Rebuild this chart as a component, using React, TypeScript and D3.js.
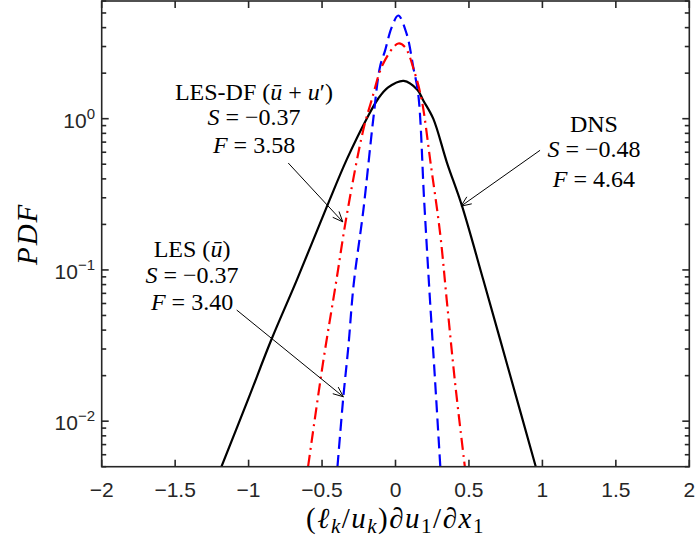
import React from "react";
import * as d3 from "d3";

// values
const dnsX = [-1.185, -1.0, -0.846, -0.672, -0.468, -0.33, -0.196, -0.117, -0.05, 0.056, 0.15, 0.189, 0.257, 0.35, 0.451, 0.598, 0.78, 0.955];
const dnsY = [0.005, 0.0142, 0.0344, 0.0857, 0.261, 0.542, 1.0, 1.36, 1.61, 1.78, 1.55, 1.32, 1.0, 0.513, 0.268, 0.0857, 0.0202, 0.005];

const lesdfX = [-0.595, -0.494, -0.402, -0.334, -0.22, -0.163, -0.084, 0.019, 0.065, 0.133, 0.179, 0.24, 0.304, 0.349, 0.406, 0.472];
const lesdfY = [0.005, 0.0241, 0.0857, 0.224, 0.837, 1.32, 2.31, 3.14, 2.97, 1.98, 1.32, 0.5, 0.174, 0.063, 0.0178, 0.005];

const lesX = [-0.395, -0.355, -0.321, -0.285, -0.219, -0.151, -0.106, -0.071, -0.026, 0.019, 0.076, 0.121, 0.155, 0.195, 0.232, 0.269, 0.305];
const lesY = [0.005, 0.0145, 0.031, 0.08, 0.248, 1.0, 2.19, 2.82, 4.02, 4.81, 3.64, 2.19, 1.45, 0.288, 0.07, 0.0188, 0.005];

const xTicks = [-2, -1.5, -1, -0.5, 0, 0.5, 1, 1.5, 2];
const xTickLabels = ["\u22122", "\u22121.5", "\u22121", "\u22120.5", "0", "0.5", "1", "1.5", "2"];
const yTicks = [0.01, 0.1, 1];
const yTickExps = ["\u22122", "\u22121", "0"];

// annotation anchors in data units: [text x, line1 y, line2 y, line3 y]
const annLesdf = [-0.963, 1.32, 0.903, 0.59];
const annLes = [-1.385, 0.122, 0.0818, 0.0543];
const annDns = [1.351, 0.816, 0.558, 0.354];
// arrows: [x tail, y tail, x head, y head]
const arrowLesdf = [-0.73, 0.509, -0.359, 0.208];
const arrowLes = [-1.081, 0.0543, -0.355, 0.0145];
const arrowDns = [0.984, 0.618, 0.446, 0.264];

const W = 697;
const H = 541;
const left = 101.7, right = 689.3, top = 1, bottom = 466.7;

const tickFont = "'Liberation Sans', Arial, Helvetica, sans-serif";
const texFont = "'Liberation Serif', 'Times New Roman', serif";
const axisColor = "#262626";

function Arrow({ a, xs, ys }: { a: number[]; xs: any; ys: any }) {
  const x1 = xs(a[0]), y1 = ys(a[1]), x2 = xs(a[2]), y2 = ys(a[3]);
  const ang = Math.atan2(y2 - y1, x2 - x1);
  const L = 11, hw = 0.4;
  const p1 = [x2 - L * Math.cos(ang - hw), y2 - L * Math.sin(ang - hw)];
  const p2 = [x2 - L * Math.cos(ang + hw), y2 - L * Math.sin(ang + hw)];
  return (
    <g stroke="#000" strokeWidth={1} fill="none">
      <line x1={x1} y1={y1} x2={x2} y2={y2} />
      <polyline points={`${p1[0]},${p1[1]} ${x2},${y2} ${p2[0]},${p2[1]}`} />
    </g>
  );
}

export default function App() {
  const xs = d3.scaleLinear().domain([-2, 2]).range([left, right]);
  const ys = d3.scaleLog().domain([0.005, 6]).range([bottom, top]);

  const line = d3
    .line<[number, number]>()
    .x((d) => xs(d[0]))
    .y((d) => ys(d[1]))
    .curve(d3.curveCatmullRom.alpha(0.5));

  const series = [
    { name: "DNS", x: dnsX, y: dnsY, color: "#000000", dash: undefined },
    { name: "LES", x: lesX, y: lesY, color: "#0000ff", dash: "12,6" },
    { name: "LES-DF", x: lesdfX, y: lesdfY, color: "#ff0000", dash: "12,5,2,5" },
  ];

  const minor = ys.ticks().filter((v) => !yTicks.some((t) => Math.abs(t - v) < 1e-9));

  return (
    <svg width={W} height={H} style={{ position: "absolute", left: 0, top: 0, background: "#fff" }}>
      <defs>
        <clipPath id="plotclip">
          <rect x={left} y={top} width={right - left} height={bottom - top} />
        </clipPath>
      </defs>
      <rect x={0} y={0} width={W} height={H} fill="#fff" />

      <g clipPath="url(#plotclip)">
        {series.map((s) => (
          <path
            key={s.name}
            d={line(s.x.map((v, i) => [v, s.y[i]] as [number, number])) || ""}
            fill="none"
            stroke={s.color}
            strokeWidth={2.2}
            strokeDasharray={s.dash}
          />
        ))}
      </g>

      {/* frame and ticks */}
      <g stroke={axisColor} strokeWidth={1.6} fill="none">
        <rect x={left} y={top} width={right - left} height={bottom - top} />
        {xTicks.map((t) => (
          <g key={"xt" + t}>
            <line x1={xs(t)} x2={xs(t)} y1={bottom} y2={bottom - 7} />
            <line x1={xs(t)} x2={xs(t)} y1={top} y2={top + 7} />
          </g>
        ))}
        {yTicks.map((t) => (
          <g key={"yt" + t}>
            <line x1={left} x2={left + 7} y1={ys(t)} y2={ys(t)} />
            <line x1={right} x2={right - 7} y1={ys(t)} y2={ys(t)} />
          </g>
        ))}
        {minor.map((t) => (
          <g key={"ym" + t}>
            <line x1={left} x2={left + 4.5} y1={ys(t)} y2={ys(t)} />
            <line x1={right} x2={right - 4.5} y1={ys(t)} y2={ys(t)} />
          </g>
        ))}
      </g>

      {/* tick labels */}
      <g fill={axisColor} fontFamily={tickFont} fontSize={21}>
        {xTicks.map((t, i) => (
          <text key={"xl" + t} x={xs(t)} y={497} textAnchor="middle">
            {xTickLabels[i]}
          </text>
        ))}
        {yTicks.map((t, i) => (
          <text key={"yl" + t} x={95} y={ys(t) + 9} textAnchor="end">
            <tspan>10</tspan>
            <tspan fontSize={15} dy={-9}>{yTickExps[i]}</tspan>
          </text>
        ))}
      </g>

      {/* axis labels */}
      <text x={395.5} y={528} textAnchor="middle" fontFamily={texFont} fontSize={29} letterSpacing={1.5} fill="#000">
        <tspan>(</tspan>
        <tspan fontStyle="italic">{"\u2113"}</tspan>
        <tspan fontStyle="italic" fontSize={21} dy={5}>k</tspan>
        <tspan dy={-5}>/</tspan>
        <tspan fontStyle="italic">u</tspan>
        <tspan fontStyle="italic" fontSize={21} dy={5}>k</tspan>
        <tspan dy={-5}>){"\u2202"}</tspan>
        <tspan fontStyle="italic">u</tspan>
        <tspan fontSize={21} dy={5}>1</tspan>
        <tspan dy={-5}>/{"\u2202"}</tspan>
        <tspan fontStyle="italic">x</tspan>
        <tspan fontSize={21} dy={5}>1</tspan>
      </text>
      <text
        transform={`translate(37,${(top + bottom) / 2}) rotate(-90)`}
        textAnchor="middle"
        fontFamily={texFont}
        fontSize={29}
        letterSpacing={2}
        fontStyle="italic"
        fill="#000"
      >
        PDF
      </text>

      {/* annotations */}
      <g fontFamily={texFont} fontSize={24} fill="#000" textAnchor="middle">
        <text x={xs(annLesdf[0])} y={ys(annLesdf[1])}>
          LES-DF (<tspan fontStyle="italic">{"\u016B"}</tspan> + <tspan fontStyle="italic">u</tspan>{"\u2032"})
        </text>
        <text x={xs(annLesdf[0])} y={ys(annLesdf[2])}>
          <tspan fontStyle="italic">S</tspan> = {"\u2212"}0.37
        </text>
        <text x={xs(annLesdf[0])} y={ys(annLesdf[3])}>
          <tspan fontStyle="italic">F</tspan> = 3.58
        </text>

        <text x={xs(annLes[0])} y={ys(annLes[1])}>
          LES (<tspan fontStyle="italic">{"\u016B"}</tspan>)
        </text>
        <text x={xs(annLes[0])} y={ys(annLes[2])}>
          <tspan fontStyle="italic">S</tspan> = {"\u2212"}0.37
        </text>
        <text x={xs(annLes[0])} y={ys(annLes[3])}>
          <tspan fontStyle="italic">F</tspan> = 3.40
        </text>

        <text x={xs(annDns[0])} y={ys(annDns[1])}>DNS</text>
        <text x={xs(annDns[0])} y={ys(annDns[2])}>
          <tspan fontStyle="italic">S</tspan> = {"\u2212"}0.48
        </text>
        <text x={xs(annDns[0])} y={ys(annDns[3])}>
          <tspan fontStyle="italic">F</tspan> = 4.64
        </text>
      </g>

      <Arrow a={arrowLesdf} xs={xs} ys={ys} />
      <Arrow a={arrowLes} xs={xs} ys={ys} />
      <Arrow a={arrowDns} xs={xs} ys={ys} />
    </svg>
  );
}
